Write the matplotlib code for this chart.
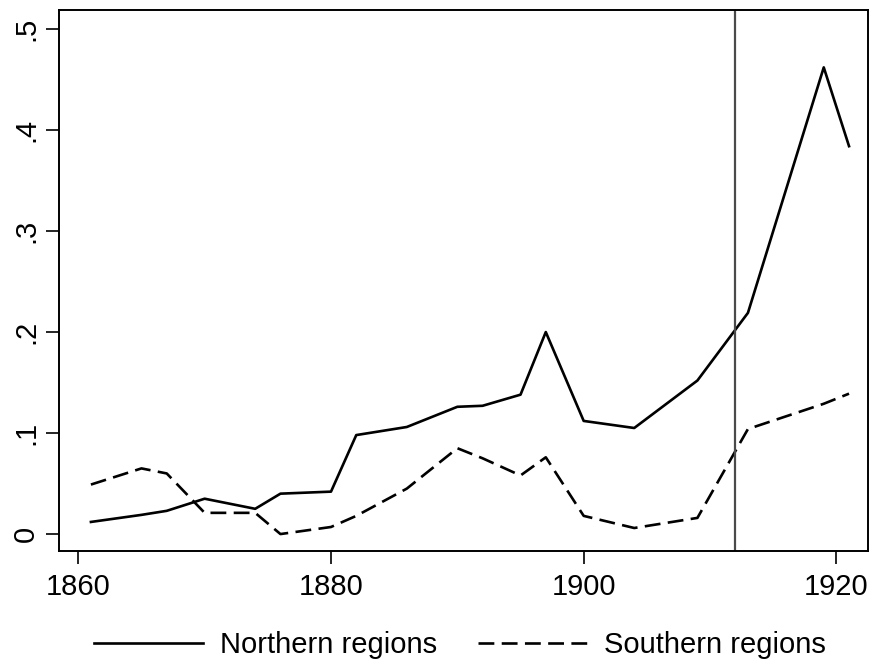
import matplotlib
matplotlib.use("Agg")
import matplotlib.pyplot as plt

# values
years = [1861, 1865, 1867, 1870, 1874, 1876, 1880, 1882, 1886, 1890,
         1892, 1895, 1897, 1900, 1904, 1909, 1913, 1919, 1921]
northern = [0.012, 0.019, 0.023, 0.035, 0.025, 0.040, 0.042, 0.098, 0.106, 0.126,
            0.127, 0.138, 0.200, 0.112, 0.105, 0.152, 0.219, 0.462, 0.384]
southern = [0.049, 0.065, 0.060, 0.021, 0.021, 0.000, 0.007, 0.018, 0.045, 0.085,
            0.075, 0.058, 0.076, 0.018, 0.006, 0.016, 0.104, 0.129, 0.139]
series_names = ["Northern regions", "Southern regions"]
event_year = 1912

xticks = [1860, 1880, 1900, 1920]
yticks = [0, 0.1, 0.2, 0.3, 0.4, 0.5]
ytick_labels = ["0", ".1", ".2", ".3", ".4", ".5"]

plt.rcParams["font.family"] = ["Liberation Sans", "DejaVu Sans"]
fs = 21
lw = 1.9

fig = plt.figure(figsize=(8.72, 6.68), dpi=100)
ax = fig.add_axes([0.0682, 0.1751, 0.9951 - 0.0682, 0.985 - 0.1751])

ax.plot(years, northern, color="black", linewidth=lw, label=series_names[0])
ax.plot(years, southern, color="black", linewidth=lw, linestyle=(0, (6.0, 2.8)),
        label=series_names[1])
ax.axvline(event_year, color="#4a4a4a", linewidth=1.6)

ax.set_xlim(1858.51, 1922.48)
ax.set_ylim(-0.0168, 0.5188)
ax.set_xticks(xticks)
ax.set_yticks(yticks)
ax.set_yticklabels(ytick_labels)
ax.tick_params(axis="both", direction="out", length=9.5, width=1.2,
               labelsize=fs, color="black")
ax.tick_params(axis="x", pad=6)
ax.tick_params(axis="y", pad=4.5)
plt.setp(ax.get_yticklabels(), rotation=90, va="center")

for sp in ax.spines.values():
    sp.set_linewidth(1.4)
    sp.set_color("black")

fig.legend(loc="center", bbox_to_anchor=(0.528, 0.034), ncol=2, frameon=False,
           fontsize=fs, handlelength=3.72, handletextpad=0.6, columnspacing=1.4)

fig.savefig("out.png", dpi=100, facecolor="white")
